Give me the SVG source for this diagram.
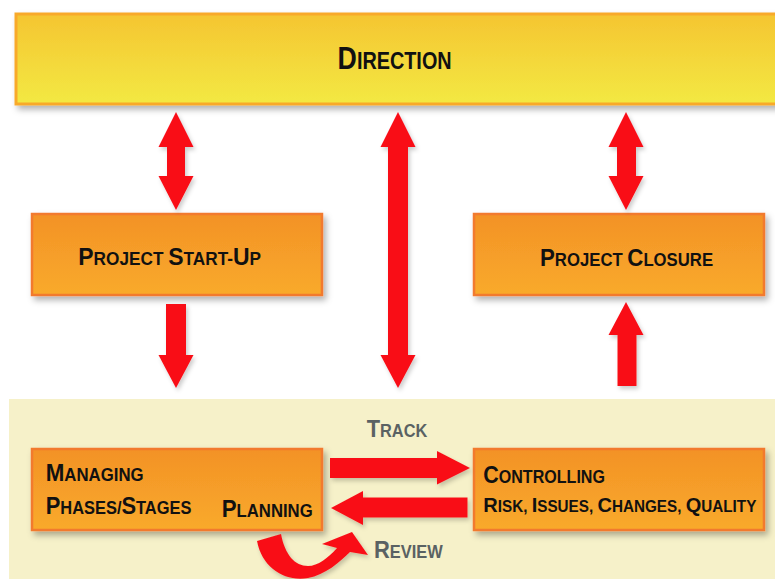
<svg xmlns="http://www.w3.org/2000/svg" width="775" height="579" viewBox="0 0 775 579">
<defs>
<linearGradient id="gOr" x1="0" y1="0" x2="0" y2="1">
<stop offset="0" stop-color="#F39226"/>
<stop offset="1" stop-color="#F9AA2C"/>
</linearGradient>
<linearGradient id="gYe" x1="0" y1="0" x2="0" y2="1">
<stop offset="0" stop-color="#F5C531"/>
<stop offset="1" stop-color="#F3E943"/>
</linearGradient>
<filter id="sh" x="-10%" y="-20%" width="130%" height="150%">
<feDropShadow dx="3" dy="4" stdDeviation="3" flood-color="#000" flood-opacity="0.3"/>
</filter>
<filter id="ash" x="-30%" y="-20%" width="160%" height="150%">
<feDropShadow dx="2" dy="3" stdDeviation="2" flood-color="#000" flood-opacity="0.2"/>
</filter>
</defs>
<style>
.box{fill:url(#gOr);stroke:#F27A2E;stroke-width:2.5;filter:url(#sh)}
.t{font-family:"Liberation Sans",Arial,sans-serif;font-weight:bold;fill:#111}
.g{fill:#5A6263}
.b{font-size:24px}
.s{font-size:18px}
.arr{fill:#F91119;filter:url(#ash)}
</style>
<rect x="0" y="0" width="775" height="579" fill="#fff"/>
<rect id="panel" x="9" y="399" width="775" height="185" fill="#F6F1C9"/>

<g id="direction">
<rect x="16" y="14" width="775" height="90" fill="url(#gYe)" stroke="#F8A92A" stroke-width="3" filter="url(#sh)"/>
<text class="t" transform="translate(337.6,69) scale(0.862,1)"><tspan style="font-size:31px">D</tspan><tspan style="font-size:23px">IRECTION</tspan></text>
</g>

<g id="startup">
<rect class="box" x="32" y="214" width="290" height="81"/>
<text class="t" transform="translate(78.3,265) scale(0.957,1)"><tspan class="b">P</tspan><tspan class="s">ROJECT </tspan><tspan class="b">S</tspan><tspan class="s">TART-</tspan><tspan class="b">U</tspan><tspan class="s">P</tspan></text>
</g>

<g id="closure">
<rect class="box" x="474" y="214" width="290" height="81"/>
<text class="t" transform="translate(540,265.5) scale(0.929,1)"><tspan class="b">P</tspan><tspan class="s">ROJECT </tspan><tspan class="b">C</tspan><tspan class="s">LOSURE</tspan></text>
</g>

<g id="managing">
<rect class="box" x="32" y="449" width="290" height="81"/>
<text class="t" transform="translate(45.7,481) scale(0.933,1)"><tspan class="b">M</tspan><tspan class="s">ANAGING</tspan></text>
<text class="t" transform="translate(45.7,514) scale(0.913,1)"><tspan class="b">P</tspan><tspan class="s">HASES/</tspan><tspan class="b">S</tspan><tspan class="s">TAGES</tspan></text>
<text class="t" transform="translate(221.7,516.5) scale(0.929,1)"><tspan class="b">P</tspan><tspan class="s">LANNING</tspan></text>
</g>

<g id="controlling">
<rect class="box" x="474" y="449" width="290" height="81"/>
<text class="t" transform="translate(483.3,483.3) scale(0.893,1)"><tspan class="b">C</tspan><tspan class="s">ONTROLLING</tspan></text>
<text class="t" transform="translate(483.3,512.3) scale(0.954,1)"><tspan style="font-size:21px">R</tspan><tspan style="font-size:16px">ISK, </tspan><tspan style="font-size:21px">I</tspan><tspan style="font-size:16px">SSUES, </tspan><tspan style="font-size:21px">C</tspan><tspan style="font-size:16px">HANGES, </tspan><tspan style="font-size:21px">Q</tspan><tspan style="font-size:16px">UALITY</tspan></text>
</g>

<g id="connectors">
<polygon class="arr" points="176,112 193.5,147 185,147 185,176 193.5,176 176,210 158.5,176 167,176 167,147 158.5,147"/>
<polygon class="arr" points="398,112 415.5,147 408,147 408,355 415.5,355 398,388 380.5,355 388,355 388,147 380.5,147"/>
<polygon class="arr" points="626,112 643.5,147 636,147 636,176 643.5,176 626,210 608.5,176 617,176 617,147 608.5,147"/>
<polygon class="arr" points="166,304 186,304 186,355 193.5,355 176,388 158.5,355 166,355"/>
<polygon class="arr" points="626,302 643.5,335 636.5,335 636.5,386 617.5,386 617.5,335 608.5,335"/>
<polygon class="arr" points="330,458 437,458 437,451 470,468 437,484.5 437,478 330,478"/>
<polygon class="arr" points="467.5,497.5 363,497.5 363,491 331,508 363,525 363,517.5 467.5,517.5"/>
<path class="arr" d="M257,541 C262,568 285,582 308,578 C325,575 340,562 350,552 L368,555 L352,532 L322,544 L337,548 C328,558 318,566 308,566 C295,566 285,555 281,534 Z"/>
<text class="t g" transform="translate(366.7,436.7) scale(0.909,1)"><tspan class="b">T</tspan><tspan class="s">RACK</tspan></text>
<text class="t g" transform="translate(374,557.7) scale(0.912,1)"><tspan class="b">R</tspan><tspan class="s">EVIEW</tspan></text>
</g>
</svg>
